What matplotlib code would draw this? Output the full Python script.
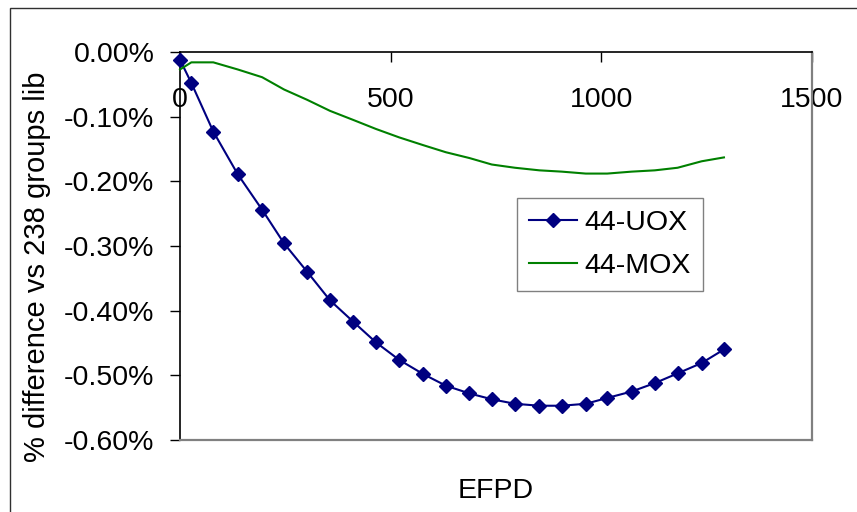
# Built-in modules #
import matplotlib
matplotlib.use('Agg')

# Third party modules #
from matplotlib import pyplot
from matplotlib.patches import Rectangle
from matplotlib.ticker import FuncFormatter

################################################################################
# Burnup steps (EFPD) #
efpd = [0, 27, 79, 137, 195, 247, 302, 356, 411, 465, 520, 577, 631,
        687, 740, 795, 853, 906, 963, 1014, 1072, 1127, 1181, 1238, 1291]

# Relative difference in percent #
uox_diff = [-0.012, -0.048, -0.123, -0.189, -0.244, -0.296, -0.340, -0.384,
            -0.417, -0.449, -0.476, -0.498, -0.516, -0.528, -0.537, -0.544,
            -0.547, -0.547, -0.544, -0.535, -0.525, -0.512, -0.497, -0.481,
            -0.460]
mox_diff = [-0.027, -0.016, -0.016, -0.027, -0.039, -0.058, -0.074, -0.091,
            -0.105, -0.119, -0.132, -0.144, -0.155, -0.164, -0.174, -0.179,
            -0.183, -0.185, -0.188, -0.188, -0.185, -0.183, -0.179, -0.169,
            -0.163]

series_names = ['44-UOX', '44-MOX']
x_ticks      = [0, 500, 1000, 1500]
y_ticks      = [0.0, -0.1, -0.2, -0.3, -0.4, -0.5, -0.6]

################################################################################
pyplot.rcParams['font.family'] = ['Liberation Sans', 'DejaVu Sans']
pyplot.rcParams['font.size']   = 20.5

W, H = 857, 512
fig  = pyplot.figure(figsize=(W/100, H/100), dpi=100)
axes = fig.add_axes([180/W, 1 - 440/H, (812 - 180)/W, (440 - 52)/H])

# Chart area border, only its top and left edges are on the page #
fig.add_artist(Rectangle((10/W, -0.1), 1.2, (1 - 8/H) + 0.1, transform=fig.transFigure,
                         fill=False, edgecolor='#303030', linewidth=1.0))

# Curves #
axes.plot(efpd, uox_diff, color='#000080', linewidth=1.5, marker='D', markersize=7.6,
          markeredgecolor='#000080', label=series_names[0], clip_on=False, zorder=3)
axes.plot(efpd, mox_diff, color='#008000', linewidth=1.5,
          label=series_names[1], clip_on=False, zorder=3)

# Limits #
axes.set_xlim(0, 1500)
axes.set_ylim(-0.6, 0.0)

# Frame: axes lines in black, plot area border in gray #
for side in ('top', 'left'):
    axes.spines[side].set_color('black')
    axes.spines[side].set_linewidth(1.2)
for side in ('bottom', 'right'):
    axes.spines[side].set_color('#808080')
    axes.spines[side].set_linewidth(1.6)

# X axis sits at zero, which is the top of the plot #
axes.set_xticks(x_ticks)
axes.tick_params(axis='x', top=True, bottom=False, labeltop=True, labelbottom=False,
                 direction='in', length=7.5, width=1.0, pad=-44)

# Y axis #
axes.set_yticks(y_ticks)
axes.yaxis.set_major_formatter(FuncFormatter(lambda y, pos: '%.2f%%' % y))
axes.tick_params(axis='y', direction='out', length=7.5, width=1.0, pad=11)

# Labels #
fig.text(37/W, 1 - 267/H, '% difference vs 238 groups lib', rotation=90,
         ha='center', va='center', fontsize=21)
fig.text(496/W, 1 - 498/H, 'EFPD', ha='center', va='baseline')

# Legend #
legend = axes.legend(loc='upper left', bbox_to_anchor=((517 - 180)/(812 - 180), 1 - (198 - 52)/(440 - 52)),
                     fancybox=False, shadow=False, framealpha=1, edgecolor='#808080',
                     handlelength=1.7, handletextpad=0.25, labelspacing=0.6,
                     borderpad=0.42, borderaxespad=0.0)
legend.get_frame().set_linewidth(1.0)

fig.savefig('out.png', dpi=100)
pyplot.close(fig)
